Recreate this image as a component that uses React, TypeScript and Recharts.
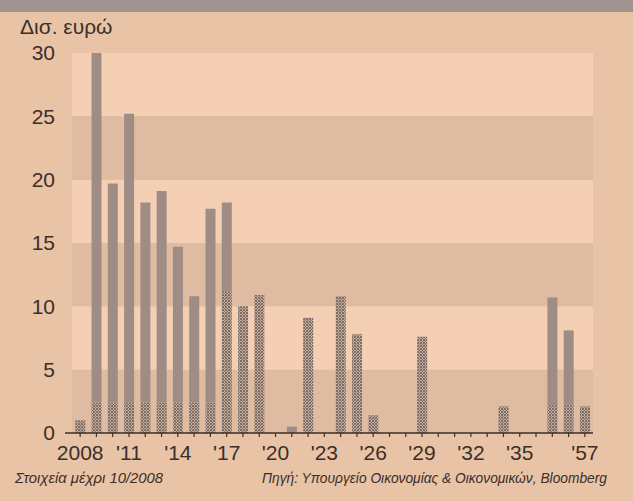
import { BarChart, Bar, XAxis, YAxis, ReferenceArea } from "recharts";

// maturity years (x categories)
const years = [
  "2008", "2009", "2010", "2011", "2012", "2013", "2014", "2015", "2016", "2017",
  "2018", "2019", "2020", "2021", "2022", "2023", "2024", "2025", "2026", "2027",
  "2028", "2029", "2030", "2031", "2032", "2033", "2034", "2035", "2036", "2037",
  "2040", "2057",
];

// lower, stippled part of each bar
const stippled = [
  1.0, 2.4, 2.4, 2.4, 2.4, 2.4, 2.4, 2.4, 2.4, 11.2,
  10.0, 10.9, 0, 0, 9.1, 0, 10.8, 7.8, 1.4, 0,
  0, 7.6, 0, 0, 0, 0, 2.1, 0, 0, 2.2,
  2.2, 2.1,
];

// upper, solid grey part of each bar
const solid = [
  0, 27.6, 17.3, 22.8, 15.8, 16.7, 12.3, 8.4, 15.3, 7.0,
  0, 0, 0, 0.5, 0, 0, 0, 0, 0, 0,
  0, 0, 0, 0, 0, 0, 0, 0, 0, 8.5,
  5.9, 0,
];

const tickLabels: Record<string, string> = {
  "2008": "2008", "2011": "'11", "2014": "'14", "2017": "'17", "2020": "'20",
  "2023": "'23", "2026": "'26", "2029": "'29", "2032": "'32", "2035": "'35",
  "2057": "'57",
};

const yTicks = [0, 5, 10, 15, 20, 25, 30];
const lightBands = [[25, 30], [15, 20], [5, 10]];
const darkBands = [[20, 25], [10, 15], [0, 5]];

const data = years.map((y, i) => ({ year: y, stippled: stippled[i], solid: solid[i] }));

const ink = "#3b2f2a";
const font = "'Liberation Sans', Arial, sans-serif";

export default function App() {
  return (
    <div
      style={{
        position: "fixed",
        left: 0,
        top: 0,
        width: 633,
        height: 501,
        background: "#e9c3a6",
        overflow: "hidden",
        fontFamily: font,
      }}
    >
      <div style={{ position: "absolute", left: 0, top: 0, width: 633, height: 12, background: "#9f948f" }} />
      <BarChart
        width={633}
        height={501}
        data={data}
        margin={{ top: 53, right: 40, bottom: 38, left: 0 }}
        barCategoryGap="20%"
      >
        <defs>
          <pattern id="dots" width="3" height="3" patternUnits="userSpaceOnUse">
            <rect width="3" height="3" fill="#c9b0a0" />
            <circle cx="1" cy="1" r="1" fill="#645750" />
            <circle cx="2.5" cy="2.5" r="0.7" fill="#7a6b63" />
          </pattern>
        </defs>
        {lightBands.map(([a, b]) => (
          <ReferenceArea key={"l" + a} y1={a} y2={b} fill="#f4cfb3" fillOpacity={1} stroke="none" ifOverflow="hidden" />
        ))}
        {darkBands.map(([a, b]) => (
          <ReferenceArea key={"d" + a} y1={a} y2={b} fill="#dfbba2" fillOpacity={1} stroke="none" ifOverflow="hidden" />
        ))}
        <XAxis
          dataKey="year"
          interval={0}
          padding={{ left: 7, right: 0 }}
          tickFormatter={(v: string) => tickLabels[v] ?? ""}
          axisLine={{ stroke: ink, strokeWidth: 1.5 }}
          tickLine={{ stroke: ink, strokeWidth: 1.2 }}
          tickSize={4}
          tickMargin={8}
          tick={{ fill: ink, fontSize: 21, fontFamily: font }}
        />
        <YAxis
          domain={[0, 30]}
          ticks={yTicks}
          width={65}
          axisLine={false}
          tickLine={false}
          tickSize={0}
          tickMargin={10}
          tick={{ fill: ink, fontSize: 21, fontFamily: font }}
        />
        <Bar dataKey="stippled" stackId="a" fill="url(#dots)" isAnimationActive={false} />
        <Bar dataKey="solid" stackId="a" fill="#9f8d85" isAnimationActive={false} />
      </BarChart>
      <svg
        width={633}
        height={501}
        style={{ position: "absolute", left: 0, top: 0, pointerEvents: "none" }}
      >
        <text x={20} y={34} fontSize={21} fill={ink} fontFamily={font}>
          Δισ. ευρώ
        </text>
        <text
          x={15}
          y={483}
          fontSize={14}
          fontStyle="italic"
          fill={ink}
          fontFamily="'Liberation Sans Narrow', 'Liberation Sans', sans-serif"
          textLength={148}
          lengthAdjust="spacingAndGlyphs"
        >
          Στοιχεία μέχρι 10/2008
        </text>
        <text
          x={262}
          y={483}
          fontSize={14}
          fontStyle="italic"
          fill={ink}
          fontFamily="'Liberation Sans Narrow', 'Liberation Sans', sans-serif"
          textLength={345}
          lengthAdjust="spacingAndGlyphs"
        >
          Πηγή: Υπουργείο Οικονομίας &amp; Οικονομικών, Bloomberg
        </text>
      </svg>
    </div>
  );
}
